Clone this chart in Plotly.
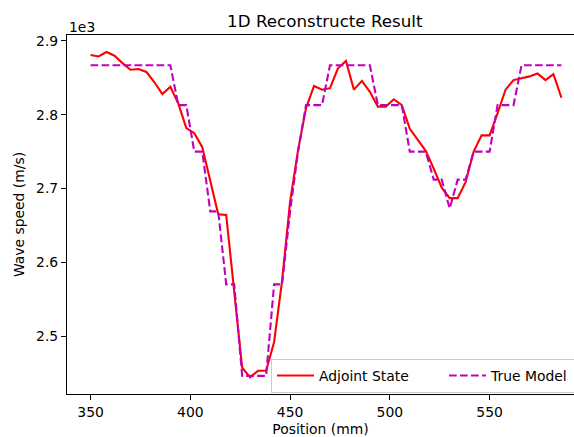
import plotly.graph_objects as go

position_mm = [350, 354, 358, 362, 366, 370, 374, 378, 382, 386,
               390, 394, 398, 402, 406, 410, 414, 418, 422, 426,
               430, 434, 438, 442, 446, 450, 454, 458, 462, 466,
               470, 474, 478, 482, 486, 490, 494, 498, 502, 506,
               510, 514, 518, 522, 526, 530, 534, 538, 542, 546,
               550, 554, 558, 562, 566, 570, 574, 578, 582, 586]

adjoint_state = [2881, 2879, 2885, 2880, 2870, 2861, 2862, 2858, 2844, 2828,
                 2838, 2815, 2782, 2775, 2756, 2710, 2665, 2664, 2560, 2457,
                 2444, 2453, 2453, 2492, 2575, 2682, 2752, 2809, 2839, 2834,
                 2836, 2863, 2873, 2834, 2846, 2831, 2811, 2811, 2821, 2813,
                 2781, 2766, 2751, 2727, 2701, 2687, 2687, 2709, 2750, 2772,
                 2772, 2802, 2834, 2847, 2849, 2852, 2856, 2847, 2855, 2823]

true_model = [2867, 2867, 2867, 2867, 2867, 2867, 2867, 2867, 2867, 2867,
              2867, 2813, 2813, 2750, 2750, 2669, 2669, 2570, 2570, 2446,
              2446, 2446, 2446, 2570, 2570, 2669, 2750, 2813, 2813, 2813,
              2867, 2867, 2867, 2867, 2867, 2867, 2813, 2813, 2813, 2813,
              2750, 2750, 2750, 2712, 2712, 2673, 2712, 2712, 2750, 2750,
              2750, 2813, 2813, 2813, 2867, 2867, 2867, 2867, 2867, 2867]

x_ticks = [350, 400, 450, 500, 550]
y_ticks = [2500, 2600, 2700, 2800, 2900]
y_tick_labels = ["2.5", "2.6", "2.7", "2.8", "2.9"]

FONT = "DejaVu Sans"
FS = 13.9

fig = go.Figure()
fig.add_trace(go.Scatter(x=position_mm, y=adjoint_state, mode="lines",
                         name="Adjoint State",
                         line=dict(color="#ff0000", width=2.1)))
fig.add_trace(go.Scatter(x=position_mm, y=true_model, mode="lines",
                         name="True Model",
                         line=dict(color="#bf00bf", width=2.1, dash="7.7px,3.3px")))

axis_common = dict(showgrid=False, zeroline=False, showline=True, linecolor="black",
                   linewidth=1.1, mirror=True, ticks="outside", ticklen=5,
                   tickwidth=1.1, tickcolor="black",
                   tickfont=dict(family=FONT, size=FS, color="black"))

fig.update_layout(
    width=574, height=437,
    margin=dict(l=67, r=0, t=35, b=43, autoexpand=False),
    paper_bgcolor="white", plot_bgcolor="white",
    font=dict(family=FONT, size=FS, color="black"),
    title=dict(text="1D Reconstructe Result", x=324.8 / 574, xanchor="center",
               xref="container", y=1 - 21.5 / 437, yref="container", yanchor="middle",
               font=dict(family=FONT, size=16.7, color="black")),
    xaxis=dict(range=[338.2, 592.3], tickvals=x_ticks,
               title=dict(text="Position (mm)", standoff=11,
                          font=dict(family=FONT, size=FS, color="black")),
               **axis_common),
    yaxis=dict(range=[2421.4, 2908.1], tickvals=y_ticks, ticktext=y_tick_labels,
               title=dict(text="Wave speed (m/s)", standoff=8,
                          font=dict(family=FONT, size=FS, color="black")),
               **axis_common),
    legend=dict(orientation="h", x=(271 - 67) / 507, xanchor="left",
                y=1 - (359 - 35) / 359, yanchor="top", yref="paper",
                bgcolor="rgba(255,255,255,0.8)", bordercolor="#cccccc", borderwidth=1,
                itemwidth=37, entrywidth=120, entrywidthmode="pixels",
                font=dict(family=FONT, size=FS, color="black")),
    showlegend=True,
)
fig.add_annotation(text="1e3", xref="paper", yref="paper", x=0, y=1,
                   xanchor="left", yanchor="bottom", showarrow=False, yshift=-2,
                   font=dict(family=FONT, size=FS, color="black"))

fig.write_html("out.html")
